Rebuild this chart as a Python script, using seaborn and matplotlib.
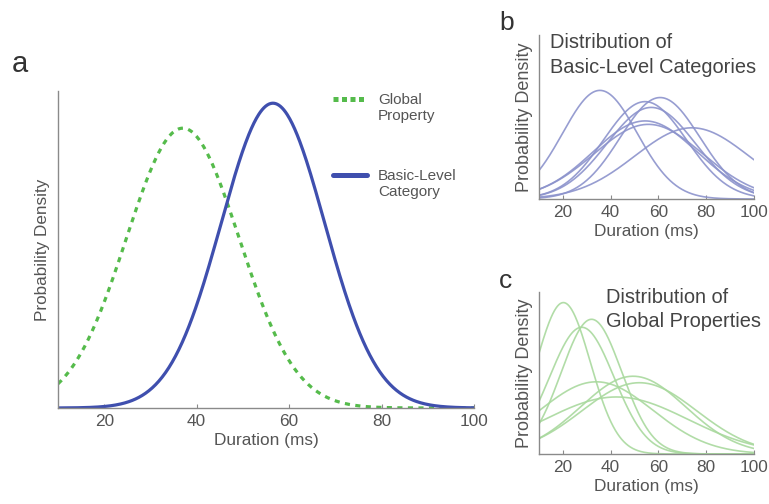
import numpy as np
import pandas as pd
import matplotlib
matplotlib.use("Agg")
import matplotlib.pyplot as plt
import seaborn as sns

sns.set_theme(style="white")
plt.rcParams['font.family'] = ['Liberation Sans', 'DejaVu Sans']

# ---- data ----
# panel a: mean / sd of the two summary distributions (ms)
a_labels = ["Global\nProperty", "Basic-Level\nCategory"]
a_means = [37.0, 56.5]
a_sds = [12.2, 11.2]

# panel b: basic-level categories
b_means = [35.5, 60.7, 54.4, 57.0, 54.4, 55.8, 74.0]
b_sds = [15.6, 16.7, 17.4, 18.5, 21.7, 22.7, 23.8]

# panel c: global properties
c_means = [20.2, 32.0, 27.9, 34.0, 49.4, 52.0, 42.4]
c_sds = [11.3, 12.7, 13.5, 23.7, 22.0, 24.0, 30.0]

x_ticks = [20, 40, 60, 80, 100]
x_min, x_max = 10, 100

BLUE = "#3f4fae"
GREEN = "#55bb4b"
LIGHT_BLUE = "#8c93cc"
LIGHT_GREEN = "#a9d99e"
GRAY_TXT = "#555555"
AXIS_COL = "#8a8a8a"

grid = np.linspace(x_min, x_max, 500)


def pdf(x, m, s):
    return np.exp(-0.5 * ((x - m) / s) ** 2) / (s * np.sqrt(2 * np.pi))


def curves_df(means, sds, names=None):
    rows = []
    for i, (m, s) in enumerate(zip(means, sds)):
        nm = names[i] if names else f"c{i}"
        rows.append(pd.DataFrame({"x": grid, "y": pdf(grid, m, s), "name": nm}))
    return pd.concat(rows, ignore_index=True)


fig = plt.figure(figsize=(7.69, 5.04), dpi=100)
W, H = 769, 504


def add_ax(l, r, t, b):
    return fig.add_axes([l / W, 1 - b / H, (r - l) / W, (b - t) / H])


def style_ax(ax, fs, yfs, ypad):
    for sp in ["top", "right"]:
        ax.spines[sp].set_visible(False)
    for sp in ["left", "bottom"]:
        ax.spines[sp].set_color(AXIS_COL)
        ax.spines[sp].set_linewidth(1.0)
    ax.set_xlim(x_min, x_max)
    ax.set_xticks(x_ticks)
    ax.set_xticklabels([str(t) for t in x_ticks])
    ax.set_yticks([])
    ax.tick_params(axis="x", direction="in", length=3, width=0.8, color=AXIS_COL,
                   labelsize=fs, labelcolor=GRAY_TXT, pad=4, bottom=True)
    ax.set_xlabel("Duration (ms)", fontsize=fs, color=GRAY_TXT, labelpad=3)
    ax.set_ylabel("Probability Density", fontsize=yfs, color=GRAY_TXT, labelpad=ypad)
    ax.set_facecolor("white")


# ---- panel a ----
axa = add_ax(58, 474, 91, 408)
dfa = curves_df(a_means, a_sds, a_labels)
sns.lineplot(data=dfa, x="x", y="y", hue="name", style="name",
             palette={a_labels[0]: GREEN, a_labels[1]: BLUE},
             dashes={a_labels[0]: (1.6, 1.7), a_labels[1]: ""},
             linewidth=2.3, ax=axa, legend=True)
peak_a = max(pdf(m, m, s) for m, s in zip(a_means, a_sds))
axa.set_ylim(0, peak_a * 1.04)
style_ax(axa, 12.4, 12.3, 6)
leg = axa.legend(loc="upper left", bbox_to_anchor=(0.661, 0.993), frameon=False,
                 fontsize=11, labelspacing=3.0, handlelength=2.2,
                 handletextpad=0.75, labelcolor=GRAY_TXT, borderpad=0,
                 borderaxespad=0)
for h in leg.get_lines():
    h.set_linewidth(3.6)
    h.set_ydata(np.asarray(h.get_ydata(), dtype=float) + 6.5)
leg.get_lines()[0].set_linestyle((0, (1.0, 0.7)))
fig.text(12 / W, 1 - 72 / H, "a", fontsize=21, color="#333333")

# ---- panel b ----
axb = add_ax(539, 754, 35, 199)
dfb = curves_df(b_means, b_sds)
sns.lineplot(data=dfb, x="x", y="y", hue="name",
             palette=[LIGHT_BLUE] * len(b_means), linewidth=1.2, alpha=0.9,
             ax=axb, legend=False)
peak_b = pdf(b_means[0], b_means[0], b_sds[0])
axb.set_ylim(0, peak_b * 1.51)
style_ax(axb, 12.4, 13, 4)
axb.text(0.05, 1.01, "Distribution of\nBasic-Level Categories", transform=axb.transAxes,
         fontsize=14.4, color="#444444", va="top", ha="left", linespacing=1.35)
fig.text(499 / W, 1 - 30 / H, "b", fontsize=19, color="#333333")

# ---- panel c ----
axc = add_ax(539, 754, 292, 454)
dfc = curves_df(c_means, c_sds)
sns.lineplot(data=dfc, x="x", y="y", hue="name",
             palette=[LIGHT_GREEN] * len(c_means), linewidth=1.2, alpha=0.9,
             ax=axc, legend=False)
peak_c = pdf(c_means[0], c_means[0], c_sds[0])
axc.set_ylim(0, peak_c * 1.07)
style_ax(axc, 12.4, 13, 4)
axc.text(0.31, 1.024, "Distribution of\nGlobal Properties", transform=axc.transAxes,
         fontsize=14.4, color="#444444", va="top", ha="left", linespacing=1.3)
fig.text(499 / W, 1 - 288 / H, "c", fontsize=19, color="#333333")

fig.savefig("out.png", dpi=100, facecolor="white")
